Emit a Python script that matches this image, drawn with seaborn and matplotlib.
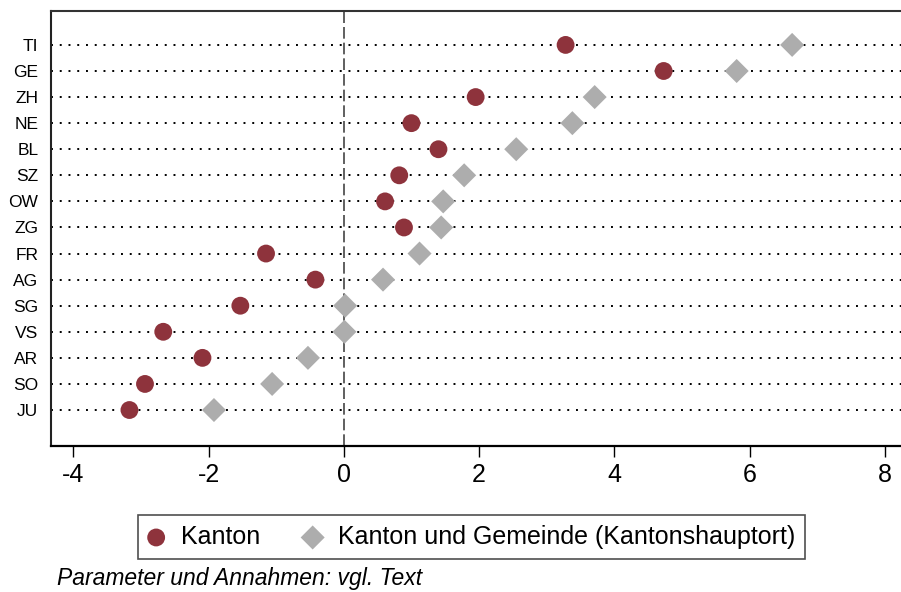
import pandas as pd
import matplotlib.pyplot as plt
import seaborn as sns

# Werte
kantone = ['TI', 'GE', 'ZH', 'NE', 'BL', 'SZ', 'OW', 'ZG', 'FR', 'AG', 'SG', 'VS', 'AR', 'SO', 'JU']
kanton = [3.28, 4.73, 1.95, 1.00, 1.40, 0.82, 0.61, 0.89, -1.15, -0.42, -1.53, -2.67, -2.09, -2.94, -3.17]
kanton_gemeinde = [6.63, 5.81, 3.71, 3.38, 2.55, 1.78, 1.47, 1.44, 1.12, 0.58, 0.02, 0.01, -0.53, -1.06, -1.92]
xticks = [-4, -2, 0, 2, 4, 6, 8]

df = pd.DataFrame({'Kanton': kantone, 'k': kanton, 'kg': kanton_gemeinde})
df['pos'] = range(len(df))

sns.set_style('white')
plt.rcParams['font.family'] = ['Liberation Sans', 'DejaVu Sans']
plt.rcParams['text.color'] = 'black'
plt.rcParams['xtick.color'] = 'black'
plt.rcParams['ytick.color'] = 'black'

fig = plt.figure(figsize=(9.01, 5.92), dpi=100)
ax = fig.add_axes([0.0566, 0.2466, 0.9434, 0.7348])

# punktierte Hilfslinien
for p in df['pos']:
    ax.axhline(p, color='black', linestyle=(0, (1, 3.5)), linewidth=1.4, zorder=1)
ax.axvline(0, color='#444444', linestyle=(0, (7, 2.4)), linewidth=1.2, zorder=1)

sns.scatterplot(data=df, x='kg', y='pos', ax=ax, marker='D', s=150, color='#ADADAD',
                edgecolor='none', zorder=3, label='Kanton und Gemeinde (Kantonshauptort)')
sns.scatterplot(data=df, x='k', y='pos', ax=ax, marker='o', s=165, color='#8E333C',
                edgecolor='none', zorder=4, label='Kanton')

ax.set_xlim(-4.33, 8.24)
ax.set_ylim(len(df) - 1 + 1.38, -1.3)
ax.set_xticks(xticks)
ax.set_xticklabels([str(t) for t in xticks], fontsize=18)
ax.set_yticks(df['pos'])
ax.set_yticklabels(df['Kanton'], fontsize=12.5)
ax.tick_params(axis='x', direction='out', length=8, width=1, color='black', pad=4, bottom=True)
ax.tick_params(axis='y', length=0, pad=9)
ax.set_xlabel('')
ax.set_ylabel('')

ax.spines['right'].set_visible(False)
ax.spines['top'].set_color('#333333')
ax.spines['top'].set_linewidth(1.5)
ax.spines['left'].set_color('#222222')
ax.spines['left'].set_linewidth(1.5)
ax.spines['bottom'].set_color('black')
ax.spines['bottom'].set_linewidth(1.6)

handles, labels = ax.get_legend_handles_labels()
leg = ax.legend(handles[::-1], labels[::-1], loc='upper left', bbox_to_anchor=(0.1532, 0.130),
                bbox_transform=fig.transFigure, ncol=2, fontsize=18, frameon=True,
                fancybox=False, edgecolor='#222222', handlelength=0.65, handletextpad=0.68,
                columnspacing=1.76, borderpad=0.4, borderaxespad=0, markerscale=1.0)
leg.get_frame().set_linewidth(1.2)

fig.text(0.063, 0.012, 'Parameter und Annahmen: vgl. Text', fontsize=16.5, style='italic',
         va='baseline')

plt.savefig('out.png', dpi=100)
